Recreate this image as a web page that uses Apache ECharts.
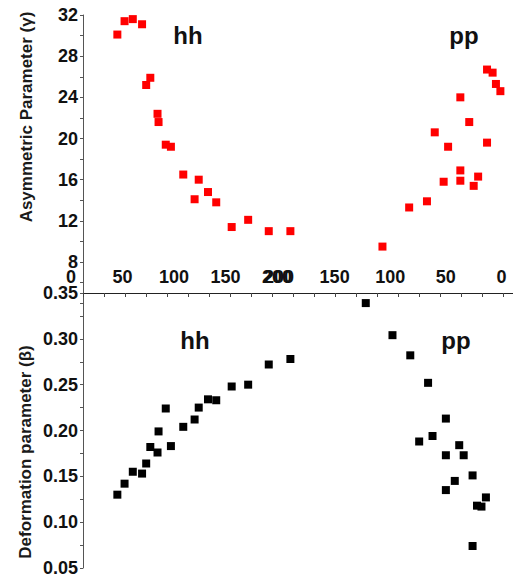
<!DOCTYPE html>
<html>
<head>
<meta charset="utf-8">
<script src="https://cdn.jsdelivr.net/npm/echarts@6/dist/echarts.min.js"></script>
<style>
html,body{margin:0;padding:0;background:#fff;}
#c{width:513px;height:580px;}
</style>
</head>
<body>
<div id="c"></div>
<script>
// ---- data ----
const hhN      = [45, 52, 60, 69, 73, 77, 84, 85, 92, 97, 109, 120, 124, 133, 141, 156, 172, 192, 213];
const hhGamma  = [30.1, 31.4, 31.6, 31.1, 25.2, 25.9, 22.4, 21.6, 19.4, 19.2, 16.5, 14.1, 16.0, 14.8, 13.8, 11.4, 12.1, 11.0, 11.0];
const hhBeta   = [0.130, 0.142, 0.155, 0.153, 0.164, 0.182, 0.176, 0.199, 0.224, 0.183, 0.204, 0.212, 0.225, 0.234, 0.233, 0.248, 0.250, 0.272, 0.278];

const ppTopN   = [13, 8, 5, 1, 37, 29, 60, 13, 48, 37, 21, 52, 37, 25, 67, 83, 107];
const ppGamma  = [26.7, 26.4, 25.3, 24.6, 24.0, 21.6, 20.6, 19.6, 19.2, 16.9, 16.3, 15.8, 15.9, 15.4, 13.9, 13.3, 9.5];
const ppBotN   = [122, 98, 82, 66, 50, 62, 74, 38, 34, 50, 26, 42, 50, 14, 22, 18, 26];
const ppBeta   = [0.339, 0.304, 0.282, 0.252, 0.213, 0.194, 0.188, 0.184, 0.173, 0.173, 0.151, 0.145, 0.135, 0.127, 0.118, 0.117, 0.074];

const xTickValues   = [0, 50, 100, 150, 200];
const gammaRange    = [4, 32];
const gammaStep     = 4;
const betaRange     = [0.05, 0.35];
const betaStep      = 0.05;
const gammaTitle    = 'Asymmetric Parameter (\u03b3)';
const betaTitle     = 'Deformation parameter (\u03b2)';
const groupLabels   = ['hh', 'pp'];

// ---- chart ----
const FONT = 'Liberation Sans, Arial, Helvetica, sans-serif';
const zip = (a, b) => a.map((v, i) => [v, b[i]]);

const topY = 15, topH = 288.2;   // gamma 32 -> 4
const botY = 293, botH = 275;    // beta 0.35 -> 0.05
const hhLeft = 71, hhW = 226.6;  // 0 -> 220
const ppLeft = 279, ppW = 222.5; // 200 -> 0

const lblStyle = {fontFamily: FONT, fontWeight: 'bold', fontSize: 18, color: '#111'};
const axisCol = '#555';

const hidden = {show: false};

const option = {
  animation: false,
  backgroundColor: '#fff',
  grid: [
    {left: 83, top: topY, width: 1, height: topH},               // 0 frame top
    {left: 83, top: botY, right: 0, height: botH},               // 1 frame bottom
    {left: hhLeft, top: topY, width: hhW, height: topH},         // 2 hh top
    {left: ppLeft, top: topY, width: ppW, height: topH},         // 3 pp top
    {left: hhLeft, top: botY, width: hhW, height: botH},         // 4 hh bottom
    {left: ppLeft, top: botY, width: ppW, height: botH}          // 5 pp bottom
  ],
  xAxis: [
    {gridIndex: 0, type: 'value', min: 0, max: 1, show: false},
    {gridIndex: 1, type: 'value', position: 'top', min: 0, max: 430, interval: 21,
      axisLine: {show: true, lineStyle: {color: '#222', width: 1}},
      axisTick: {show: true, inside: true, length: 4, lineStyle: {color: '#444'}},
      axisLabel: {show: false}, splitLine: {show: false}},
    {gridIndex: 2, type: 'value', min: 0, max: 220, show: false},
    {gridIndex: 3, type: 'value', min: 0, max: 200, inverse: true, show: false},
    {gridIndex: 4, type: 'value', position: 'top', min: 0, max: 220, interval: 50,
      axisLine: hidden, axisTick: hidden, splitLine: hidden,
      axisLabel: Object.assign({margin: 7, showMaxLabel: false,
        formatter: v => xTickValues.includes(v) ? String(v) : ''}, lblStyle)},
    {gridIndex: 5, type: 'value', position: 'top', min: 0, max: 200, interval: 50, inverse: true,
      axisLine: hidden, axisTick: hidden, splitLine: hidden,
      axisLabel: Object.assign({margin: 7,
        formatter: v => xTickValues.includes(v) ? String(v) : ''}, lblStyle)}
  ],
  yAxis: [
    {gridIndex: 0, type: 'value', min: gammaRange[0], max: gammaRange[1], interval: gammaStep,
      axisLine: {show: true, lineStyle: {color: axisCol}},
      axisTick: {show: true, length: 3, lineStyle: {color: axisCol}},
      minorTick: {show: true, splitNumber: 2, length: 3, lineStyle: {color: axisCol}},
      splitLine: hidden, minorSplitLine: hidden,
      axisLabel: Object.assign({margin: 5, showMinLabel: false}, lblStyle)},
    {gridIndex: 1, type: 'value', min: betaRange[0], max: betaRange[1], interval: betaStep,
      axisLine: {show: true, lineStyle: {color: axisCol}},
      axisTick: {show: true, length: 3, lineStyle: {color: axisCol}},
      minorTick: {show: true, splitNumber: 2, length: 3, lineStyle: {color: axisCol}},
      splitLine: hidden, minorSplitLine: hidden,
      axisLabel: Object.assign({margin: 5, formatter: v => v.toFixed(2)}, lblStyle)},
    {gridIndex: 2, type: 'value', min: gammaRange[0], max: gammaRange[1], show: false},
    {gridIndex: 3, type: 'value', min: gammaRange[0], max: gammaRange[1], show: false},
    {gridIndex: 4, type: 'value', min: betaRange[0], max: betaRange[1], show: false},
    {gridIndex: 5, type: 'value', min: betaRange[0], max: betaRange[1], show: false}
  ],
  graphic: [
    {type: 'text', x: 26, y: 117, rotation: Math.PI / 2,
      style: {text: gammaTitle, font: 'bold 17px ' + FONT, fill: '#1a1a1a', align: 'center', verticalAlign: 'middle'}},
    {type: 'text', x: 25, y: 452, rotation: Math.PI / 2,
      style: {text: betaTitle, font: 'bold 17px ' + FONT, fill: '#1a1a1a', align: 'center', verticalAlign: 'middle'}},
    {type: 'text', x: 188, y: 35, style: {text: groupLabels[0], font: 'bold 24px ' + FONT, fill: '#111', align: 'center', verticalAlign: 'middle'}},
    {type: 'text', x: 464, y: 35, style: {text: groupLabels[1], font: 'bold 24px ' + FONT, fill: '#111', align: 'center', verticalAlign: 'middle'}},
    {type: 'text', x: 195, y: 340, style: {text: groupLabels[0], font: 'bold 24px ' + FONT, fill: '#111', align: 'center', verticalAlign: 'middle'}},
    {type: 'text', x: 456, y: 340, style: {text: groupLabels[1], font: 'bold 24px ' + FONT, fill: '#111', align: 'center', verticalAlign: 'middle'}}
  ],
  series: [
    {type: 'scatter', xAxisIndex: 2, yAxisIndex: 2, symbol: 'rect', symbolSize: 8, clip: false,
      itemStyle: {color: '#ff0000', opacity: 1}, data: zip(hhN, hhGamma)},
    {type: 'scatter', xAxisIndex: 3, yAxisIndex: 3, symbol: 'rect', symbolSize: 8, clip: false,
      itemStyle: {color: '#ff0000', opacity: 1}, data: zip(ppTopN, ppGamma)},
    {type: 'scatter', xAxisIndex: 4, yAxisIndex: 4, symbol: 'rect', symbolSize: 8, clip: false,
      itemStyle: {color: '#000000', opacity: 1}, data: zip(hhN, hhBeta)},
    {type: 'scatter', xAxisIndex: 5, yAxisIndex: 5, symbol: 'rect', symbolSize: 8, clip: false,
      itemStyle: {color: '#000000', opacity: 1}, data: zip(ppBotN, ppBeta)}
  ]
};

const chart = echarts.init(document.getElementById('c'), null, {renderer: 'svg', width: 513, height: 580});
chart.setOption(option);
</script>
</body>
</html>
